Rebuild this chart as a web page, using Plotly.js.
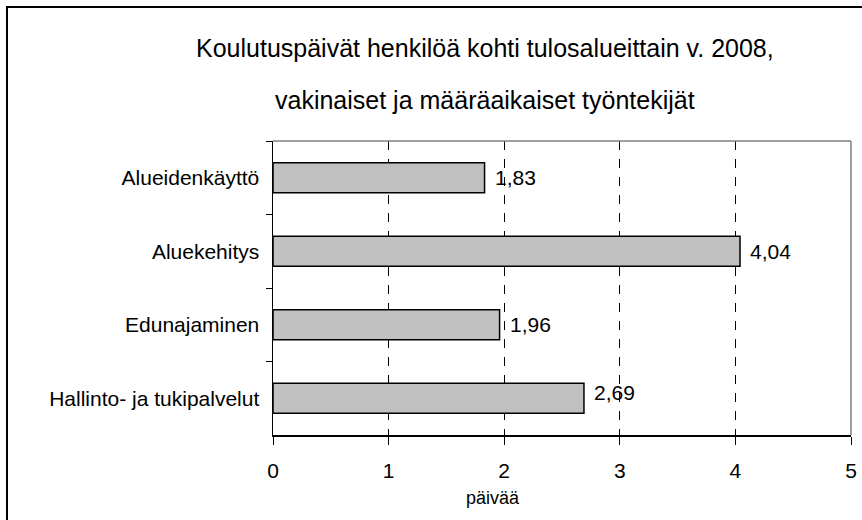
<!DOCTYPE html>
<html>
<head>
<meta charset="utf-8">
<script src="https://cdn.plot.ly/plotly-3.0.1.min.js"></script>
<style>
html,body{margin:0;padding:0;background:#fff;}
#chart{width:862px;height:520px;}
</style>
</head>
<body>
<div id="chart"></div>
<script>
// Data
const categories = ["Alueidenkäyttö", "Aluekehitys", "Edunajaminen", "Hallinto- ja tukipalvelut"];
const values = [1.83, 4.04, 1.96, 2.69];
const xTicks = [0, 1, 2, 3, 4, 5];
const titleLines = ["Koulutuspäivät henkilöä kohti tulosalueittain v. 2008,", "vakinaiset ja määräaikaiset työntekijät"];
const xAxisTitle = "päivää";

const W = 862, H = 520;
const M = {l: 273, r: 11, t: 141, b: 85};
const pw = W - M.l - M.r, ph = H - M.t - M.b;
const px = v => (v - M.l) / pw;          // pixel -> paper x
const py = v => (H - M.b - v) / ph;      // pixel -> paper y

const fmt = v => v.toFixed(2).replace('.', ',');
const FONT = "Liberation Sans, Arial, sans-serif";

const trace = {
  type: 'bar',
  orientation: 'h',
  x: values,
  y: categories,
  marker: {color: '#c0c0c0', line: {color: '#000', width: 1.5}},
  width: 0.41,
  hoverinfo: 'x+y'
};

const annotations = values.map((v, i) => ({
  x: v, y: categories[i], xref: 'x', yref: 'y',
  text: fmt(v), showarrow: false, xanchor: 'left', xshift: 8,
  yshift: i === 3 ? 6 : 0,
  font: {family: FONT, size: 21, color: '#000'}
}));

annotations.push(
  {xref: 'paper', yref: 'paper', x: px(485), y: py(48), text: titleLines[0], showarrow: false,
   xanchor: 'center', yanchor: 'middle', font: {family: FONT, size: 25, color: '#000'}},
  {xref: 'paper', yref: 'paper', x: px(485), y: py(100), text: titleLines[1], showarrow: false,
   xanchor: 'center', yanchor: 'middle', font: {family: FONT, size: 25, color: '#000'}},
  {xref: 'paper', yref: 'paper', x: px(493), y: py(498), text: xAxisTitle, showarrow: false,
   xanchor: 'center', yanchor: 'middle', font: {family: FONT, size: 18, color: '#000'}}
);

const layout = {
  width: W, height: H,
  margin: M,
  paper_bgcolor: '#fff', plot_bgcolor: '#fff',
  showlegend: false,
  xaxis: {
    range: [0, 5], tickvals: xTicks, ticktext: xTicks.map(String),
    showgrid: true, gridcolor: '#000', griddash: 'dash', gridwidth: 1,
    zeroline: false, showline: true, linecolor: '#000', linewidth: 1.5,
    ticks: 'outside', ticklen: 8, tickcolor: '#000', tickwidth: 1,
    ticklabelstandoff: 8,
    tickfont: {family: FONT, size: 21, color: '#000'},
    fixedrange: true
  },
  yaxis: {
    type: 'category', categoryarray: categories, categoryorder: 'array',
    autorange: 'reversed',
    showgrid: false, zeroline: false, showline: true, linecolor: '#000', linewidth: 1.5,
    ticks: 'outside', tickson: 'boundaries', ticklen: 6, tickcolor: '#000', tickwidth: 1,
    ticklabelstandoff: 8,
    tickfont: {family: FONT, size: 21, color: '#000'},
    fixedrange: true
  },
  shapes: [
    {type: 'line', xref: 'x domain', yref: 'y domain', x0: 0, x1: 1, y0: 1, y1: 1,
     line: {color: '#808080', width: 1.5}, layer: 'above'},
    {type: 'line', xref: 'x domain', yref: 'y domain', x0: 1, x1: 1, y0: 0, y1: 1,
     line: {color: '#808080', width: 1.5}, layer: 'above'},
    {type: 'rect', xref: 'paper', yref: 'paper', x0: px(7), x1: px(870), y0: py(7), y1: py(530),
     line: {color: '#000', width: 2}, layer: 'below'}
  ],
  annotations: annotations
};

Plotly.newPlot('chart', [trace], layout, {displayModeBar: false, staticPlot: true});
</script>
</body>
</html>
